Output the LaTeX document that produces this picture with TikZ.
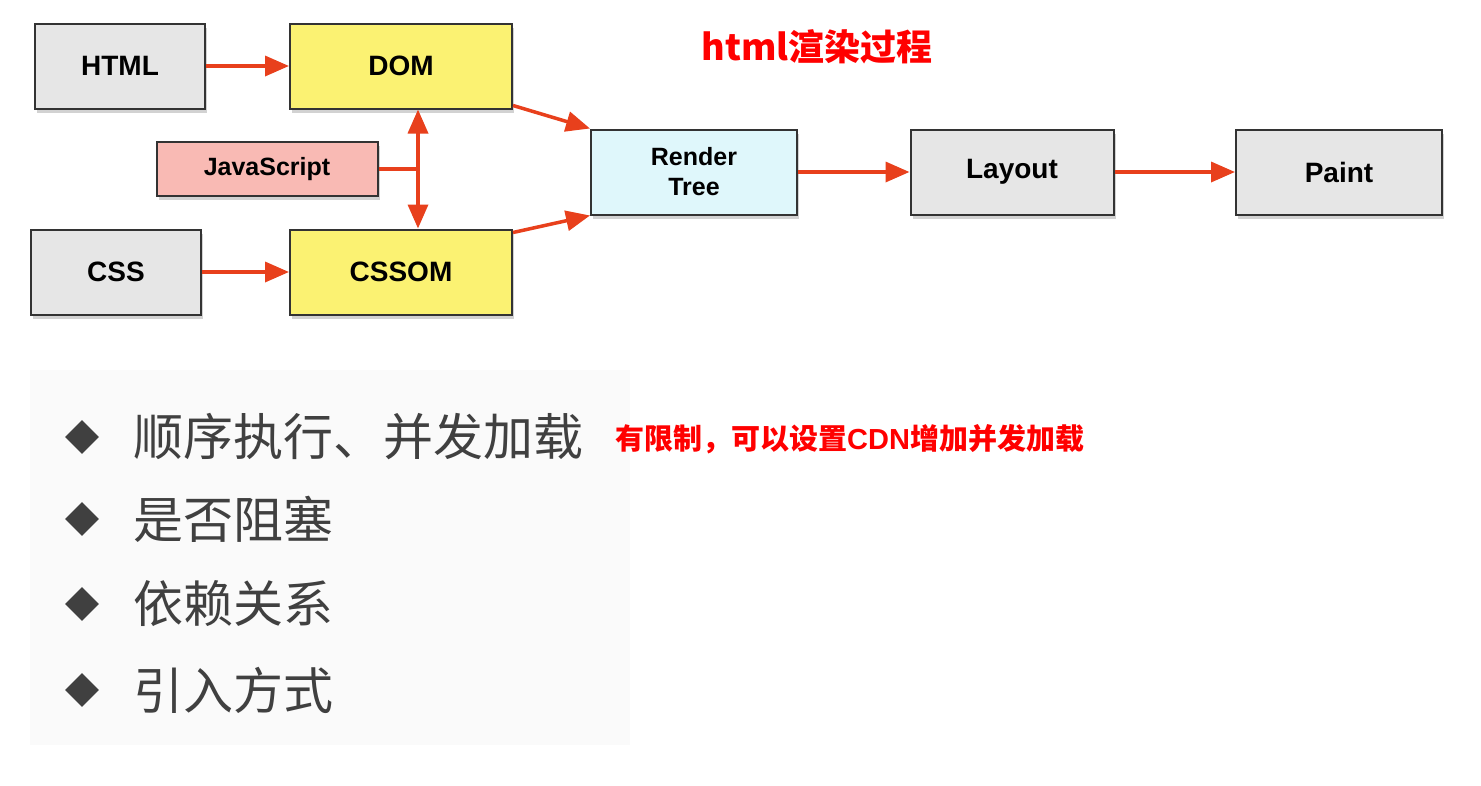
\documentclass[tikz,border=0pt]{standalone}
\usepackage{fontspec}
\setmainfont{Liberation Sans}
\newfontfamily\cjk{Noto Sans CJK SC}
\usetikzlibrary{arrows.meta,shadows}
\definecolor{arr}{HTML}{E8401C}
\definecolor{boxgray}{HTML}{E6E6E6}
\definecolor{boxyel}{HTML}{FBF272}
\definecolor{boxpink}{HTML}{F9BAB4}
\definecolor{boxcyan}{HTML}{DFF7FB}
\definecolor{txtgray}{HTML}{404040}
\begin{document}
\begin{tikzpicture}[x=1pt,y=-1pt,
  box/.style={draw=black!80,line width=2pt,minimum width=#1,minimum height=85pt,inner sep=0pt,
    font=\fontsize{28}{30}\selectfont\bfseries,align=center,drop shadow={shadow xshift=2pt,shadow yshift=-4pt,opacity=0.35}},
  ar/.style={draw=arr,line width=3.5pt,-{Triangle[length=24pt,width=20pt]}},
  bul/.style={anchor=west,font=\cjk\fontsize{50}{54}\selectfont,text=txtgray,inner sep=0pt},
  dia/.style={fill=txtgray,minimum size=24pt,inner sep=0pt,rotate=45}]
\useasboundingbox (0,0) rectangle (1481,785);
\fill[white] (0,0) rectangle (1481,785);
\fill[black!2] (30,370) rectangle (630,745);
\node[box=170pt,fill=boxgray] (html) at (120,66) {HTML};
\node[box=222pt,fill=boxyel] (dom) at (401,66) {DOM};
\node[box=221pt,fill=boxpink,minimum height=54pt,font=\fontsize{25}{28}\selectfont\bfseries] (js) at (267,169) {JavaScript};
\node[box=170pt,fill=boxgray] (css) at (116,272) {CSS};
\node[box=222pt,fill=boxyel] (cssom) at (401,272) {CSSOM};
\node[box=206pt,fill=boxcyan,font=\fontsize{25}{30}\selectfont\bfseries] (rt) at (694,172) {Render\\Tree};
\node[box=203pt,fill=boxgray] (lay) at (1012,172) {Layout};
\node[box=206pt,fill=boxgray] (paint) at (1339,172) {Paint};
\coordinate (jr) at (418,169);
\draw[ar] (html) -- (dom);
\draw[ar] (css) -- (cssom);
\draw[ar] (dom.south east) ++(0,-4) -- (rt.north west);
\draw[ar] (cssom.north east) ++(0,4) -- (rt.south west);
\draw[ar] (rt) -- (lay);
\draw[ar] (lay) -- (paint);
\draw[draw=arr,line width=3.5pt] (js.east) -- (jr);
\draw[ar,{Triangle[length=24pt,width=20pt]}-{Triangle[length=24pt,width=20pt]}] (jr|-dom.south) -- (jr|-cssom.north);
\node[font=\cjk\bfseries\fontsize{36}{40}\selectfont,text=red,draw=none] (title) at (817,47) {html渲染过程};
\node[dia] (d1) at (82,437) {};
\node[dia] (d2) at (82,519) {};
\node[dia] (d3) at (82,604) {};
\node[dia] (d4) at (82,690) {};
\node[bul] (b1) at (133,437) {顺序执行、并发加载};
\node[bul] (b2) at (133,519) {是否阻塞};
\node[bul] (b3) at (133,604) {依赖关系};
\node[bul] (b4) at (133,690) {引入方式};
\node[anchor=west,inner sep=0pt,text=red,font=\cjk\bfseries\fontsize{29}{32}\selectfont] (note) at (615,439) {有限制，可以设置\textbf{\rmfamily CDN}增加并发加载};
\end{tikzpicture}
\end{document}
